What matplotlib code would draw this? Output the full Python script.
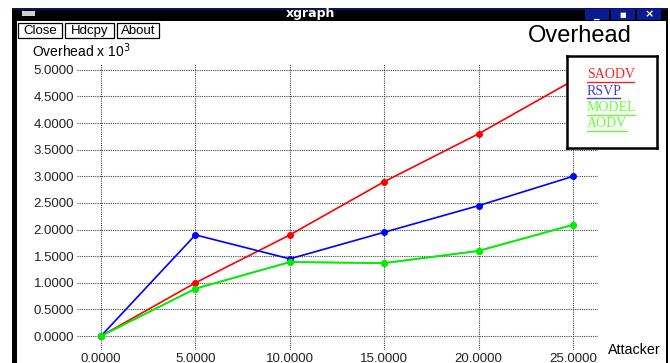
import matplotlib
matplotlib.use("Agg")
import matplotlib.pyplot as plt
from matplotlib.patches import Rectangle

# donnees
attackers = [0, 5, 10, 15, 20, 25]
saodv = [0.0, 1.0, 1.9, 2.9, 3.8, 4.8]
rsvp = [0.0, 1.9, 1.45, 1.95, 2.45, 3.0]
model = [0.0, 0.89, 1.39, 1.37, 1.6, 2.09]
aodv = [0.0, 0.89, 1.39, 1.37, 1.6, 2.09]
series_names = ["SAODV", "RSVP", "MODEL", "AODV"]
line_colors = ["#ff0000", "#0000ff", "#00ee00", "#00ee00"]
legend_colors = ["#ff2020", "#4040d0", "#66ff33", "#66ff33"]
yticks = [0, 0.5, 1, 1.5, 2, 2.5, 3, 3.5, 4, 4.5, 5]

W, H = 670, 363
fig = plt.figure(figsize=(W / 100, H / 100), dpi=100)
fig.patch.set_facecolor("white")

def px(x, y):
    return x / W, 1 - y / H

def rect(x, y, w, h, **kw):
    fig.patches.append(Rectangle(px(x, y + h), w / W, h / H, transform=fig.transFigure, **kw))

# cadre de la fenetre
rect(12, 8, 5, 355, facecolor="black", edgecolor="none")
rect(666, 20, 2, 343, facecolor="black", edgecolor="none")
rect(12, 8, 656, 13, facecolor="black", edgecolor="none")
rect(12, 8, 656, 1.5, facecolor="#101060", edgecolor="none")
rect(22, 11, 13, 5, facecolor="#d0d0d0", edgecolor="none")
for bx, glyph in [(585, "_"), (611, "\u25a0"), (637, "\u00d7")]:
    rect(bx, 9, 24, 11, facecolor="#0a1a90", edgecolor="none")
    fig.text(*px(bx + 12, 14.5), glyph, color="white", fontsize=8 if glyph != "\u25a0" else 5,
             ha="center", va="center", fontweight="bold")
fig.text(*px(310, 14), "xgraph", color="white", fontsize=9, fontweight="bold",
         ha="center", va="center", family="DejaVu Sans")

# boutons
for bx, bw, label in [(18, 44, "Close"), (65, 49, "Hdcpy"), (117, 42, "About")]:
    rect(bx, 23, bw, 15, facecolor="white", edgecolor="black", linewidth=0.9)
    fig.text(*px(bx + bw / 2, 31), label, fontsize=9.5, ha="center", va="center",
             family="Liberation Sans")

# axes
ax = fig.add_axes([77 / W, 1 - 350 / H, (598 - 77) / W, (350 - 64) / H])
ax.patch.set_alpha(0)
ax.set_xlim(-1.271, 26.32)
ax.set_ylim(-0.262, 5.11)
for s in ax.spines.values():
    s.set_visible(False)
ax.set_xticks(attackers)
ax.set_xticklabels([f"{v:.4f}" for v in attackers])
ax.set_yticks(yticks)
ax.set_yticklabels([f"{v:.4f}" for v in yticks])
ax.tick_params(length=0, labelsize=9.5, colors="#222222", pad=2)
for lab in ax.get_xticklabels() + ax.get_yticklabels():
    lab.set_family("Liberation Sans")
ax.grid(True, color="#444444", linestyle=(0, (1, 1)), linewidth=0.8)
ax.set_axisbelow(True)

data = [saodv, rsvp, model, aodv]
for vals, c in zip(data, line_colors):
    ax.plot(attackers, vals, color=c, linewidth=1.2, marker="o", markersize=4, zorder=3)

# titres
fig.text(*px(580, 36), "Overhead", fontsize=17, ha="center", va="center", family="Liberation Sans")
fig.text(*px(32, 51), "Overhead x 10$^3$", fontsize=10, ha="left", va="center", family="Liberation Sans")
fig.text(*px(634, 350), "Attacker", fontsize=10.3, ha="center", va="center", family="Liberation Sans")

# legende : un petit axe blanc par-dessus le graphe
leg = fig.add_axes([567 / W, 1 - 148 / H, 90 / W, 92 / H], zorder=5)
leg.set_facecolor("white")
leg.set_xlim(567, 657)
leg.set_ylim(148, 56)
leg.set_xticks([])
leg.set_yticks([])
for s in leg.spines.values():
    s.set_linewidth(1.8)
    s.set_color("black")
widths = {"SAODV": 47, "RSVP": 33, "MODEL": 48, "AODV": 40}
for i, (name, c) in enumerate(zip(series_names, legend_colors)):
    y = 75 + i * 16.3
    leg.text(587, y, name, color=c, fontsize=10, ha="left", va="center",
             family="Liberation Serif")
    leg.plot([587, 587 + widths[name]], [y + 7, y + 7], color=c, linewidth=1.0)

fig.savefig("out.png", dpi=100)
